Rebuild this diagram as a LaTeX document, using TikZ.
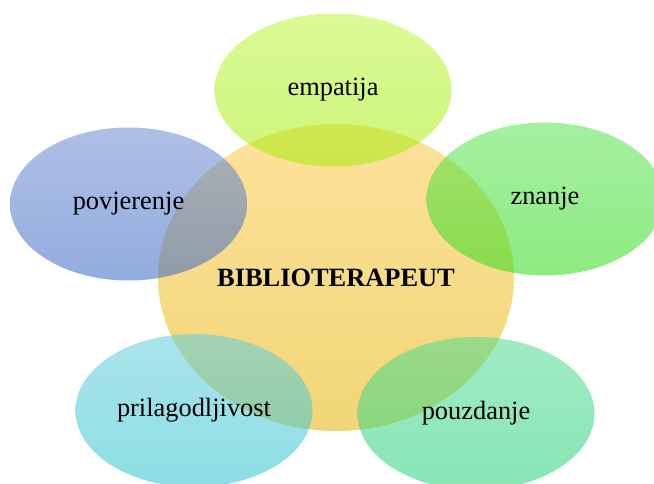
\documentclass[tikz,border=0pt]{standalone}
\usepackage{fontspec}
\setmainfont{Liberation Serif}
\usetikzlibrary{shapes.geometric}
\definecolor{cenT}{RGB}{253,225,155}
\definecolor{cenB}{RGB}{241,214,118}
\definecolor{empT}{RGB}{188,246,64}
\definecolor{empB}{RGB}{164,237,10}
\definecolor{povT}{RGB}{108,140,209}
\definecolor{povB}{RGB}{57,104,195}
\definecolor{znaT}{RGB}{91,228,82}
\definecolor{znaB}{RGB}{46,219,25}
\definecolor{priT}{RGB}{100,206,219}
\definecolor{priB}{RGB}{46,195,206}
\definecolor{pouT}{RGB}{82,219,146}
\definecolor{pouB}{RGB}{37,209,119}
\tikzset{
  txt/.style={font=\fontsize{26.4}{30}\selectfont, text=black},
  bub/.style={ellipse, inner sep=0pt, minimum width=237pt, minimum height=153pt,
    fill opacity=0.55, text opacity=1, txt},
  hub/.style={ellipse, inner sep=0pt, minimum width=356pt, minimum height=307pt,
    top color=cenT, bottom color=cenB, txt},
}
\begin{document}
\begin{tikzpicture}[x=1pt,y=-1pt]
\useasboundingbox (0,0) rectangle (654,484);
\node[hub] (c) at (336,277.5) {\bfseries BIBLIOTERAPEUT};
\node[bub, top color=empT, bottom color=empB] (emp) at (333,90) {empatija};
\node[bub, top color=povT, bottom color=povB] (pov) at (128.5,204) {povjerenje};
\node[bub, top color=znaT, bottom color=znaB] (zna) at (545,199) {znanje};
\node[bub, top color=priT, bottom color=priB] (pri) at (194,410.5) {prilagodljivost};
\node[bub, top color=pouT, bottom color=pouB] (pou) at (476,413.5) {pouzdanje};
\end{tikzpicture}
\end{document}
